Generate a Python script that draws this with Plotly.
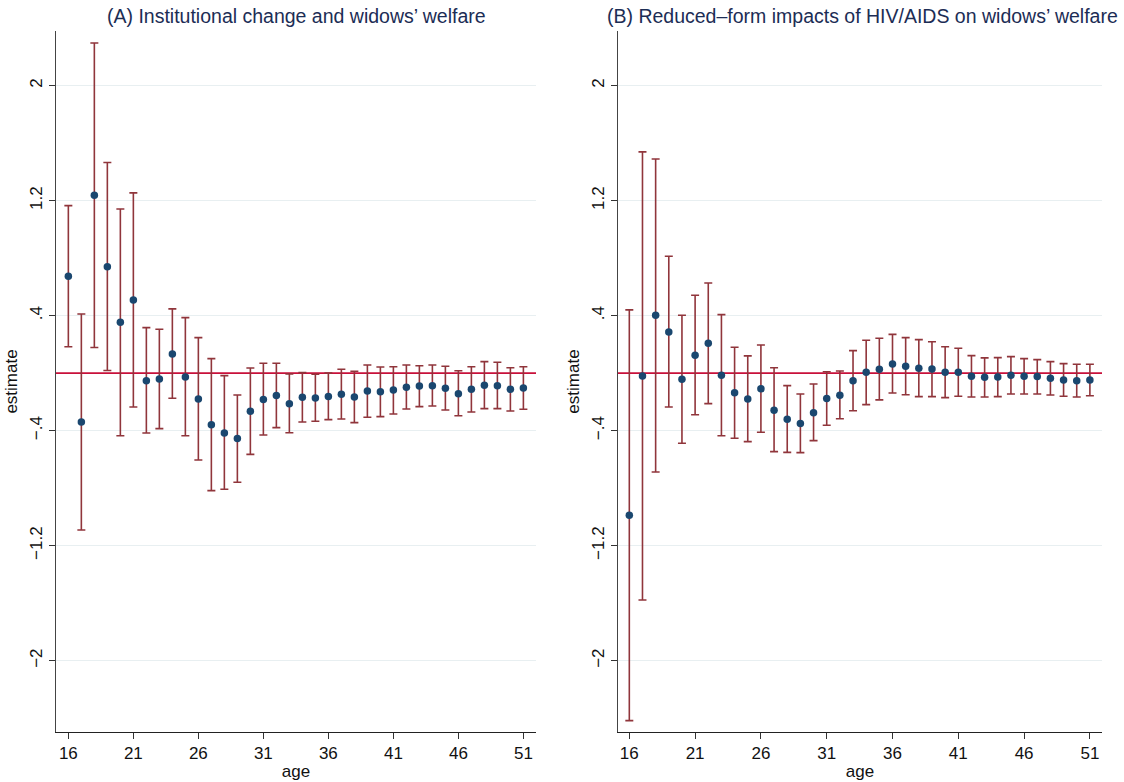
import plotly.graph_objects as go

ages = list(range(16, 52))

# Panel A: Institutional change and widows' welfare
est_a = [0.674, -0.340, 1.238, 0.741, 0.354, 0.509, -0.052, -0.040, 0.134, -0.026,
         -0.180, -0.358, -0.416, -0.455, -0.265, -0.184, -0.156, -0.212, -0.168, -0.173,
         -0.163, -0.147, -0.166, -0.124, -0.129, -0.117, -0.098, -0.089, -0.087, -0.105,
         -0.143, -0.112, -0.084, -0.087, -0.112, -0.103]
hi_a = [1.165, 0.412, 2.297, 1.465, 1.142, 1.254, 0.317, 0.305, 0.447, 0.386,
        0.247, 0.101, -0.017, -0.152, 0.036, 0.069, 0.069, -0.006, 0.004, -0.008,
        0.001, 0.027, 0.013, 0.057, 0.043, 0.045, 0.057, 0.052, 0.057, 0.048,
        0.017, 0.045, 0.080, 0.076, 0.038, 0.045]
lo_a = [0.184, -1.091, 0.178, 0.018, -0.435, -0.235, -0.416, -0.386, -0.175, -0.435,
        -0.604, -0.817, -0.808, -0.759, -0.565, -0.430, -0.379, -0.414, -0.340, -0.335,
        -0.323, -0.319, -0.344, -0.307, -0.302, -0.284, -0.249, -0.233, -0.228, -0.256,
        -0.296, -0.270, -0.247, -0.247, -0.263, -0.251]

# Panel B: Reduced-form impacts of HIV/AIDS on widows' welfare
est_b = [-0.989, -0.019, 0.403, 0.287, -0.043, 0.124, 0.208, -0.015, -0.136, -0.180,
         -0.108, -0.258, -0.321, -0.351, -0.275, -0.176, -0.153, -0.052, 0.006, 0.027,
         0.064, 0.048, 0.034, 0.029, 0.006, 0.006, -0.022, -0.029, -0.026, -0.015,
         -0.022, -0.024, -0.036, -0.047, -0.052, -0.047]
hi_b = [0.440, 1.539, 1.490, 0.813, 0.403, 0.542, 0.627, 0.407, 0.180, 0.120,
        0.196, 0.038, -0.087, -0.145, -0.075, 0.010, 0.015, 0.157, 0.229, 0.243,
        0.270, 0.247, 0.233, 0.219, 0.184, 0.173, 0.122, 0.106, 0.108, 0.115,
        0.101, 0.094, 0.080, 0.066, 0.062, 0.062]
lo_b = [-2.417, -1.578, -0.687, -0.235, -0.488, -0.289, -0.212, -0.435, -0.453, -0.476,
        -0.411, -0.546, -0.551, -0.553, -0.469, -0.362, -0.317, -0.261, -0.219, -0.186,
        -0.138, -0.150, -0.163, -0.163, -0.170, -0.161, -0.166, -0.166, -0.163, -0.145,
        -0.145, -0.145, -0.152, -0.161, -0.166, -0.157]

titles = ["(A) Institutional change and widows’ welfare",
          "(B) Reduced–form impacts of HIV/AIDS on widows’ welfare"]
y_tickvals = [2, 1.2, 0.4, -0.4, -1.2, -2]
y_ticktext = ["2", "1.2", ".4", "−.4", "−1.2", "−2"]
x_tickvals = [16, 21, 26, 31, 36, 41, 46, 51]

MARKER = "#1a476f"
BAR = "#90353b"
ZERO = "#c8103a"
GRID = "#e8eff1"
FONT = "Liberation Sans, Arial, sans-serif"

fig = go.Figure()
panels = [(est_a, hi_a, lo_a), (est_b, hi_b, lo_b)]
for i, (est, hi, lo) in enumerate(panels):
    ax = "" if i == 0 else "2"
    plus = [h - e for h, e in zip(hi, est)]
    minus = [e - l for e, l in zip(est, lo)]
    fig.add_trace(go.Scatter(
        x=ages, y=est, mode="markers",
        marker=dict(color=MARKER, size=7.5),
        error_y=dict(type="data", symmetric=False, array=plus, arrayminus=minus,
                     color=BAR, thickness=1.6, width=4),
        xaxis="x" + ax, yaxis="y" + ax, showlegend=False, cliponaxis=False))

xdoms = [[56 / 1124, 536 / 1124], [618 / 1124, 1102 / 1124]]
xranges = [[15.05, 51.97], [15.14, 51.92]]
ydom = [1 - 732 / 782, 1 - 31 / 782]
yrange = [-2.496, 2.38]
title_x = [296 / 1124, 862 / 1124]

layout = dict(
    width=1124, height=782, paper_bgcolor="white", plot_bgcolor="white",
    margin=dict(l=0, r=0, t=0, b=0),
    font=dict(family=FONT, size=15, color="#111111"),
)
for i in range(2):
    ax = "" if i == 0 else "2"
    layout["xaxis" + ax] = dict(
        domain=xdoms[i], range=xranges[i], anchor="y" + ax, automargin=False,
        tickvals=x_tickvals, ticks="outside", ticklen=6, tickcolor="#333333",
        showgrid=False, zeroline=False, showline=True, linecolor="#222222", linewidth=1,
        tickfont=dict(size=17), title=dict(text="age", font=dict(size=17), standoff=2))
    layout["yaxis" + ax] = dict(
        domain=ydom, range=yrange, anchor="x" + ax, automargin=False,
        tickvals=y_tickvals, ticktext=y_ticktext, tickangle=-90,
        ticks="outside", ticklen=6, tickcolor="#333333",
        showgrid=True, gridcolor=GRID, gridwidth=1, zeroline=False,
        showline=True, linecolor="#444444", linewidth=1,
        tickfont=dict(size=17), title=dict(text="estimate", font=dict(size=17), standoff=5))
fig.update_layout(**layout)

for i in range(2):
    ax = "" if i == 0 else "2"
    fig.add_shape(type="line", xref="x" + ax + " domain", yref="y" + ax,
                  x0=0, x1=1, y0=0, y1=0, line=dict(color=ZERO, width=1.6), layer="below")
    fig.add_annotation(text=titles[i], xref="paper", yref="paper",
                       x=title_x[i], y=1 - 16 / 782, xanchor="center", yanchor="middle",
                       showarrow=False, font=dict(size=19.5, color="#1c2d55"))

fig.write_html("out.html", config={"displayModeBar": False},
               post_script="document.body.style.margin='0';document.body.style.overflow='hidden';")
